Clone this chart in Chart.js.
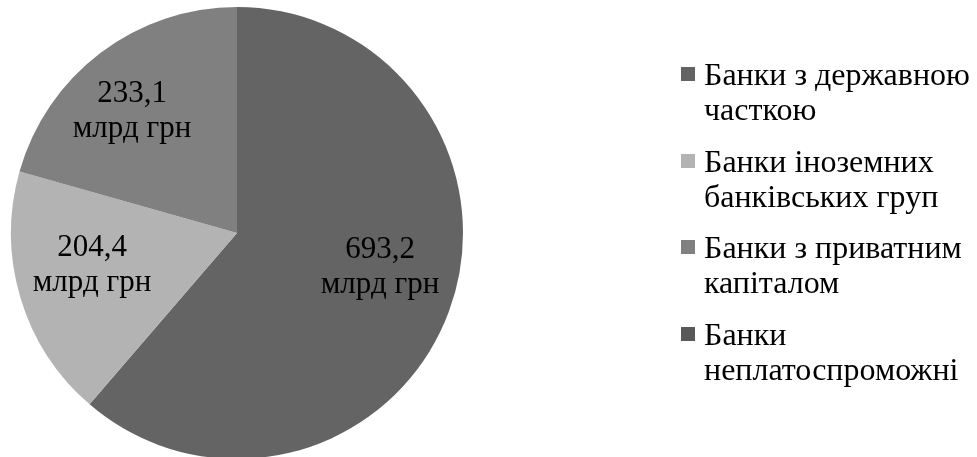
<!DOCTYPE html>
<html>
<head>
<meta charset="utf-8">
<script src="https://cdn.jsdelivr.net/npm/chart.js@4/dist/chart.umd.min.js"></script>
<style>
  html, body { margin: 0; padding: 0; background: #ffffff; overflow: hidden; }
  #wrap { position: relative; width: 977px; height: 462px; }
</style>
</head>
<body>
<div id="wrap"><canvas id="pie"></canvas></div>
<script>
// Bank groups and their totals, bn UAH
const categories = [
  ['Банки з державною', 'часткою'],
  ['Банки іноземних', 'банківських груп'],
  ['Банки з приватним', 'капіталом'],
  ['Банки', 'неплатоспроможні']
];
const values = [693.2, 204.4, 233.1, 0];
const unitLabel = 'млрд грн';
const sliceColors = ['#646464', '#b3b3b3', '#808080', '#595959'];

// value-label offsets from the slice mid-point (px)
const labelNudge = [[3, -9.5], [-2, -3.5], [-15, 5]];

const fmt = v => v.toFixed(1).replace('.', ',');

const labelsPlugin = {
  id: 'sliceLabelsAndLegend',
  afterDatasetsDraw(chart) {
    const ctx = chart.ctx;
    const meta = chart.getDatasetMeta(0);
    const data = chart.data.datasets[0].data;
    ctx.save();
    ctx.textBaseline = 'alphabetic';

    // value labels inside the slices
    meta.data.forEach((arc, i) => {
      const v = data[i];
      if (!v) return;
      const p = arc.getProps(['x', 'y', 'startAngle', 'endAngle', 'outerRadius'], true);
      const mid = (p.startAngle + p.endAngle) / 2;
      const r = p.outerRadius * 0.66;
      const n = labelNudge[i] || [0, 0];
      const x = Math.round(p.x + Math.cos(mid) * r + n[0]);
      const y = Math.round(p.y + Math.sin(mid) * r + n[1]);
      ctx.fillStyle = '#000000';
      ctx.textAlign = 'center';
      ctx.font = '31px "Liberation Serif", "Times New Roman", serif';
      ctx.fillText(fmt(v), x, y - 17);
      ctx.font = '31px "Liberation Serif", "Times New Roman", serif';
      ctx.fillText(unitLabel, x, y + 18);
    });

    // legend on the right
    const lx = 681, sq = 14, tx = 704;
    chart.data.labels.forEach((lines, i) => {
      const base = Math.round(85 + i * 86.7);
      ctx.fillStyle = sliceColors[i];
      ctx.fillRect(lx, base - 18, sq, sq);
      lines.forEach((t, k) => {
        ctx.fillStyle = '#000000';
        ctx.textAlign = 'left';
        ctx.font = '32px "Liberation Serif", "Times New Roman", serif';
        ctx.fillText(t, tx, base + k * 35);
      });
    });
    ctx.restore();
  }
};

new Chart(document.getElementById('pie'), {
  type: 'pie',
  data: {
    labels: categories,
    datasets: [{
      data: values,
      backgroundColor: sliceColors,
      borderWidth: 0
    }]
  },
  options: {
    responsive: true,
    maintainAspectRatio: false,
    animation: false,
    layout: { padding: { left: 11, top: 7, right: 514, bottom: 3 } },
    plugins: {
      legend: { display: false },
      tooltip: { enabled: false }
    }
  },
  plugins: [labelsPlugin]
});
</script>
</body>
</html>
